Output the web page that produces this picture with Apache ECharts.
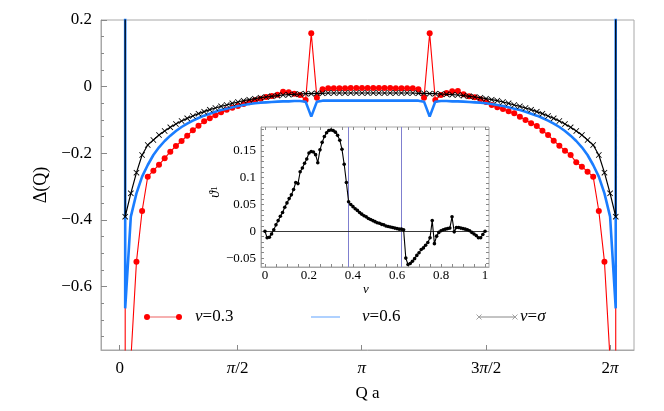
<!DOCTYPE html>
<html><head><meta charset="utf-8">
<script src="https://cdn.jsdelivr.net/npm/echarts@6/dist/echarts.min.js"></script>
<style>html,body{margin:0;padding:0;background:#fff}#c{width:664px;height:411px}</style>
</head><body><div id="c"></div>
<script>
// ---------- main panel data (x = sample index k along Q a) ----------
const Q_INDEX = [0,1,2,3,4,5,6,7,8,9,10,11,12,13,14,15,16,17,18,19,20,21,22,23,24,25,26,27,28,29,30,31,32,33,34,35,36,37,38,39,40,41,42,43,44,45,46,47,48,49,50,51,52,53,54,55,56,57,58,59,60,61,62,63,64,65,66,67,68,69,70,71,72,73,74,75,76,77,78,79,80,81,82,83,84,85,86,87];
const EDGE_TOP = 3; // divergence at the ends (off the top of the frame)
const NU_03 = [-3,-0.82,-0.525,-0.373,-0.27,-0.252,-0.234,-0.215,-0.195,-0.178,-0.163,-0.147,-0.131,-0.117,-0.104,-0.095,-0.086,-0.077,-0.069,-0.063,-0.058,-0.052,-0.047,-0.041,-0.036,-0.031,-0.028,-0.024,-0.015,-0.017,-0.021,-0.025,-0.04,0.16,-0.033,-0.008,-0.005,-0.005,-0.005,-0.005,-0.004,-0.004,-0.004,-0.004,
  -0.004,-0.004,-0.004,-0.004,-0.005,-0.005,-0.005,-0.005,-0.008,-0.033,0.16,-0.04,-0.025,-0.019,-0.014,-0.013,-0.023,-0.029,-0.032,-0.038,-0.046,-0.055,-0.062,-0.067,-0.074,-0.08,-0.09,-0.1,-0.11,-0.118,-0.132,-0.145,-0.162,-0.177,-0.192,-0.205,-0.227,-0.24,-0.255,-0.27,-0.373,-0.525,-0.82,-3];
const NU_06 = [-0.665,-0.39,-0.32,-0.27,-0.235,-0.205,-0.182,-0.163,-0.147,-0.133,-0.121,-0.111,-0.102,-0.094,-0.087,-0.081,-0.075,-0.07,-0.066,-0.062,-0.058,-0.055,-0.052,-0.05,-0.048,-0.047,-0.046,-0.045,-0.044,-0.044,-0.043,-0.043,-0.045,-0.09,-0.045,-0.042,-0.042,-0.042,-0.042,-0.042,-0.042,-0.042,-0.042,-0.042,
  -0.042,-0.042,-0.042,-0.042,-0.042,-0.042,-0.042,-0.042,-0.042,-0.045,-0.09,-0.045,-0.043,-0.043,-0.044,-0.044,-0.045,-0.046,-0.047,-0.048,-0.05,-0.052,-0.055,-0.058,-0.062,-0.066,-0.07,-0.075,-0.081,-0.087,-0.094,-0.102,-0.111,-0.121,-0.133,-0.147,-0.163,-0.182,-0.205,-0.235,-0.27,-0.32,-0.39,-0.665];
const NU_SIGMA = [-0.39,-0.32,-0.258,-0.205,-0.175,-0.16,-0.145,-0.133,-0.122,-0.112,-0.103,-0.095,-0.088,-0.081,-0.075,-0.069,-0.064,-0.059,-0.055,-0.05,-0.046,-0.042,-0.039,-0.036,-0.033,-0.031,-0.029,-0.027,-0.025,-0.024,-0.023,-0.022,-0.021,-0.021,-0.02,-0.02,-0.019,-0.019,-0.019,-0.019,-0.019,-0.019,-0.019,-0.019,
  -0.019,-0.019,-0.019,-0.019,-0.019,-0.019,-0.019,-0.019,-0.02,-0.02,-0.021,-0.021,-0.022,-0.023,-0.024,-0.025,-0.027,-0.029,-0.031,-0.033,-0.036,-0.039,-0.042,-0.046,-0.05,-0.055,-0.059,-0.064,-0.069,-0.075,-0.081,-0.088,-0.095,-0.103,-0.112,-0.122,-0.133,-0.145,-0.16,-0.175,-0.205,-0.258,-0.32,-0.39];
const X_TICK_POS = [-0.98, 19.95, 41.95, 64.0, 86.0];
const X_TICK_LABELS = ['0', '{i|π}/2', '{i|π}', '3{i|π}/2', '2{i|π}'];
const Y_TICKS = [-0.6, -0.4, -0.2, 0, 0.2];
const Y_MINOR = [-0.75,-0.7,-0.65,-0.55,-0.5,-0.45,-0.35,-0.3,-0.25,-0.15,-0.1,-0.05,0.05,0.1,0.15];
const LEGEND_NAMES = ['ν=0.3', 'ν=0.6', 'ν=σ'];

// ---------- inset data ----------
const NU = [0,0.01,0.02,0.03,0.04,0.05,0.06,0.07,0.08,0.09,0.1,0.11,0.12,0.13,0.14,0.15,0.16,0.17,0.18,0.19,0.2,0.21,0.22,0.23,0.24,0.25,0.26,0.27,0.28,0.29,0.3,0.31,0.32,0.33,0.34,0.35,0.36,0.37,0.38,0.39,0.4,0.41,0.42,0.43,0.44,0.45,0.46,0.47,0.48,0.49,0.5,0.51,0.52,0.53,0.54,0.55,0.56,0.57,0.58,0.59,0.6,0.61,0.62,0.63,0.64,0.65,0.66,0.67,0.68,0.69,0.7,0.71,0.72,0.73,0.74,0.75,0.76,0.77,0.78,0.79,0.8,0.81,0.82,0.83,0.84,0.85,0.86,0.87,0.88,0.89,0.9,0.91,0.92,0.93,0.94,0.95,0.96,0.97,0.98,0.99,1];
const THETA1 = [0,-0.012,-0.011,-0.005,0.003,0.012,0.02,0.028,0.035,0.045,0.053,0.061,0.068,0.078,0.091,0.089,0.111,0.118,0.127,0.135,0.146,0.149,0.148,0.143,0.128,0.152,0.166,0.177,0.184,0.188,0.189,0.188,0.185,0.179,0.17,0.153,0.125,0.091,0.055,0.05,0.046,0.042,0.039,0.035,0.032,0.029,0.027,0.024,0.022,0.02,0.018,0.016,0.015,0.013,0.012,0.01,0.009,0.008,0.007,0.006,0.005,0.004,0.004,0.003,-0.05,-0.062,-0.06,-0.056,-0.051,-0.045,-0.04,-0.034,-0.031,-0.026,-0.021,-0.012,0.02,-0.023,-0.009,-0.002,0.001,0.003,0.004,0.005,0.006,0.027,-0.001,0.007,0.007,0.006,0.005,0.004,0.003,0.001,-0.002,-0.005,-0.008,-0.012,-0.012,-0.006,0];
const GOLDEN_LINES = [0.382, 0.618];
const INSET_X_TICKS = [0, 0.2, 0.4, 0.6, 0.8, 1];
const INSET_X_MINOR = [0,0.05,0.1,0.15,0.2,0.25,0.3,0.35,0.4,0.45,0.5,0.55,0.6,0.65,0.7,0.75,0.8,0.85,0.9,0.95,1];
const INSET_Y_TICKS = [-0.05, 0, 0.05, 0.1, 0.15];
const INSET_Y_MINOR = [-0.06,-0.05,-0.04,-0.03,-0.02,-0.01,0,0.01,0.02,0.03,0.04,0.05,0.06,0.07,0.08,0.09,0.1,0.11,0.12,0.13,0.14,0.15,0.16,0.17,0.18,0.19];

// ---------- helpers ----------
const FONT = 'Liberation Serif';
const pairs = (xs, ys) => xs.map((x, i) => [x, ys[i]]);
const withEdges = ys => [[Q_INDEX[0], EDGE_TOP]].concat(pairs(Q_INDEX, ys), [[Q_INDEX[Q_INDEX.length - 1], EDGE_TOP]]);
const fmtNum = v => (v < 0 ? '−' + String(Math.abs(v)) : String(v));
const CROSS = 'path://M0,1L1,0L5,4L9,0L10,1L6,5L10,9L9,10L5,6L1,10L0,9L4,5Z';
const GRAY = '#a8a8a8';
const ital = { fontStyle: 'italic', fontFamily: FONT, fontSize: 17, color: '#000' };

const chart = echarts.init(document.getElementById('c'), null, { renderer: 'canvas' });

const option = {
  animation: false,
  backgroundColor: '#fff',
  textStyle: { fontFamily: FONT },
  grid: [
    { left: 101, top: 20, width: 533, height: 330, show: true, borderColor: GRAY, borderWidth: 1, outerBoundsMode: 'none' },
    { left: 261, top: 127, width: 228, height: 140, show: true, borderColor: GRAY, borderWidth: 1, backgroundColor: '#fff', outerBoundsMode: 'none', z: 5 }
  ],
  xAxis: [
    { type: 'value', gridIndex: 0, min: -4.29, max: 90.24,
      name: 'Q a', nameLocation: 'middle', nameGap: 35, nameTextStyle: { fontFamily: FONT, fontSize: 17, color: '#000' },
      axisLine: { show: true, onZero: false, lineStyle: { color: GRAY } },
      axisTick: { show: true, inside: true, length: 5, customValues: X_TICK_POS, lineStyle: { color: '#888' } },
      axisLabel: { show: true, customValues: X_TICK_POS, margin: 10, fontFamily: FONT, fontSize: 17, color: '#000',
        formatter: (v, i) => X_TICK_LABELS[X_TICK_POS.indexOf(v)] ?? X_TICK_LABELS[i],
        rich: { i: ital } },
      splitLine: { show: false } },
    { type: 'value', gridIndex: 1, min: -0.018, max: 1.018, position: 'bottom',
      name: '{i|ν}', nameLocation: 'middle', nameGap: 4,
      nameTextStyle: { fontFamily: FONT, fontSize: 13, color: '#000', padding: [0, 18, 0, 0], rich: { i: { fontStyle: 'italic', fontFamily: FONT, fontSize: 13, color: '#000' } } },
      axisLine: { show: true, onZero: false, lineStyle: { color: GRAY } },
      axisTick: { show: true, inside: true, length: 3, customValues: INSET_X_MINOR, lineStyle: { color: '#888' } },
      axisLabel: { show: true, customValues: INSET_X_TICKS, margin: 2, fontFamily: FONT, fontSize: 13, color: '#000', formatter: v => fmtNum(v) },
      splitLine: { show: false }, z: 6 },
    { type: 'value', gridIndex: 1, min: -0.018, max: 1.018, position: 'top',
      axisLine: { show: false, onZero: false },
      axisTick: { show: true, inside: true, length: 3, customValues: INSET_X_MINOR, lineStyle: { color: '#888' } },
      axisLabel: { show: false }, splitLine: { show: false }, z: 6 }
  ],
  yAxis: [
    { type: 'value', gridIndex: 0, min: -0.79, max: 0.2, position: 'left',
      name: 'Δ(Q)', nameLocation: 'middle', nameGap: 41, nameTextStyle: { fontFamily: FONT, fontSize: 18, color: '#000' },
      axisLine: { show: true, onZero: false, lineStyle: { color: GRAY } },
      axisTick: { show: true, inside: true, length: 6, customValues: Y_TICKS, lineStyle: { color: '#888' } },
      axisLabel: { show: true, customValues: Y_TICKS, margin: 9, fontFamily: FONT, fontSize: 17, color: '#000', formatter: v => fmtNum(v) },
      splitLine: { show: false } },
    { type: 'value', gridIndex: 0, min: -0.79, max: 0.2, position: 'left', offset: 0,
      axisLine: { show: false, onZero: false },
      axisTick: { show: true, inside: true, length: 3, customValues: Y_MINOR, lineStyle: { color: '#888' } },
      axisLabel: { show: false }, splitLine: { show: false } },
    { type: 'value', gridIndex: 1, min: -0.0666, max: 0.1946, position: 'left',
      name: '{i|ϑ}{s|1}', nameLocation: 'middle', nameGap: 21,
      nameTextStyle: { padding: [0, 0, 0, 10], rich: { i: { fontStyle: 'italic', fontFamily: FONT, fontSize: 14, color: '#000' }, s: { fontFamily: FONT, fontSize: 9, color: '#000' } } },
      axisLine: { show: true, onZero: false, lineStyle: { color: GRAY } },
      axisTick: { show: true, inside: true, length: 3, customValues: INSET_Y_MINOR, lineStyle: { color: '#888' } },
      axisLabel: { show: true, customValues: INSET_Y_TICKS, margin: 5, fontFamily: FONT, fontSize: 13, color: '#000', formatter: v => fmtNum(v) },
      splitLine: { show: false }, z: 6 },
    { type: 'value', gridIndex: 1, min: -0.0666, max: 0.1946, position: 'right',
      axisLine: { show: false, onZero: false },
      axisTick: { show: true, inside: true, length: 3, customValues: INSET_Y_MINOR, lineStyle: { color: '#888' } },
      axisLabel: { show: false }, splitLine: { show: false }, z: 6 }
  ],
  series: [
    { name: LEGEND_NAMES[0], type: 'line', xAxisIndex: 0, yAxisIndex: 0, data: withEdges(NU_03),
      symbol: 'circle', symbolSize: 6, showAllSymbol: true, clip: true,
      lineStyle: { color: '#ff0000', width: 1.1 }, itemStyle: { color: '#ff0000' }, z: 2 },
    { name: LEGEND_NAMES[1], type: 'line', xAxisIndex: 0, yAxisIndex: 0, data: withEdges(NU_06),
      symbol: 'none', clip: true,
      lineStyle: { color: '#1a7dff', width: 2.6 }, z: 3 },
    { name: LEGEND_NAMES[2], type: 'line', xAxisIndex: 0, yAxisIndex: 0, data: withEdges(NU_SIGMA),
      symbol: CROSS, symbolSize: 6, showAllSymbol: true, clip: true,
      lineStyle: { color: '#000', width: 1.2 }, itemStyle: { color: '#000' }, z: 4 },
    { name: 'inset', type: 'line', xAxisIndex: 1, yAxisIndex: 2, data: pairs(NU, THETA1),
      symbol: 'circle', symbolSize: 3.6, showAllSymbol: true,
      lineStyle: { color: '#000', width: 1.1 }, itemStyle: { color: '#000' }, z: 8,
      markLine: { silent: true, symbol: 'none', label: { show: false }, animation: false,
        data: [
          { xAxis: GOLDEN_LINES[0], lineStyle: { color: '#7f7fcf', width: 1, type: 'solid' } },
          { xAxis: GOLDEN_LINES[1], lineStyle: { color: '#7f7fcf', width: 1, type: 'solid' } },
          { yAxis: 0, lineStyle: { color: '#222', width: 0.9, type: 'solid' } }
        ] } }
  ],
  graphic: [
    { type: 'line', shape: { x1: 147, y1: 317, x2: 179, y2: 317 }, style: { stroke: '#f07c7c', lineWidth: 1.2 }, z: 10 },
    { type: 'circle', shape: { cx: 147, cy: 317, r: 3 }, style: { fill: '#ff0000' }, z: 10 },
    { type: 'circle', shape: { cx: 179, cy: 317, r: 3 }, style: { fill: '#ff0000' }, z: 10 },
    { type: 'text', x: 195, y: 317, style: { text: '{i|ν}=0.3', fill: '#000', font: '17px "Liberation Serif"', verticalAlign: 'middle', rich: { i: ital } }, z: 10 },
    { type: 'line', shape: { x1: 311, y1: 317, x2: 340, y2: 317 }, style: { stroke: '#8dbdff', lineWidth: 1.4 }, z: 10 },
    { type: 'text', x: 362, y: 317, style: { text: '{i|ν}=0.6', fill: '#000', font: '17px "Liberation Serif"', verticalAlign: 'middle', rich: { i: ital } }, z: 10 },
    { type: 'line', shape: { x1: 479, y1: 317, x2: 515, y2: 317 }, style: { stroke: '#888', lineWidth: 1 }, z: 10 },
    { type: 'line', shape: { x1: 476.5, y1: 314.5, x2: 481.5, y2: 319.5 }, style: { stroke: '#999', lineWidth: 0.9 }, z: 10 },
    { type: 'line', shape: { x1: 476.5, y1: 319.5, x2: 481.5, y2: 314.5 }, style: { stroke: '#999', lineWidth: 0.9 }, z: 10 },
    { type: 'line', shape: { x1: 512.5, y1: 314.5, x2: 517.5, y2: 319.5 }, style: { stroke: '#999', lineWidth: 0.9 }, z: 10 },
    { type: 'line', shape: { x1: 512.5, y1: 319.5, x2: 517.5, y2: 314.5 }, style: { stroke: '#999', lineWidth: 0.9 }, z: 10 },
    { type: 'text', x: 520, y: 317, style: { text: '{i|ν}={i|σ}', fill: '#000', font: '17px "Liberation Serif"', verticalAlign: 'middle', rich: { i: ital } }, z: 10 }
  ]
};
chart.setOption(option);
</script>
</body></html>
